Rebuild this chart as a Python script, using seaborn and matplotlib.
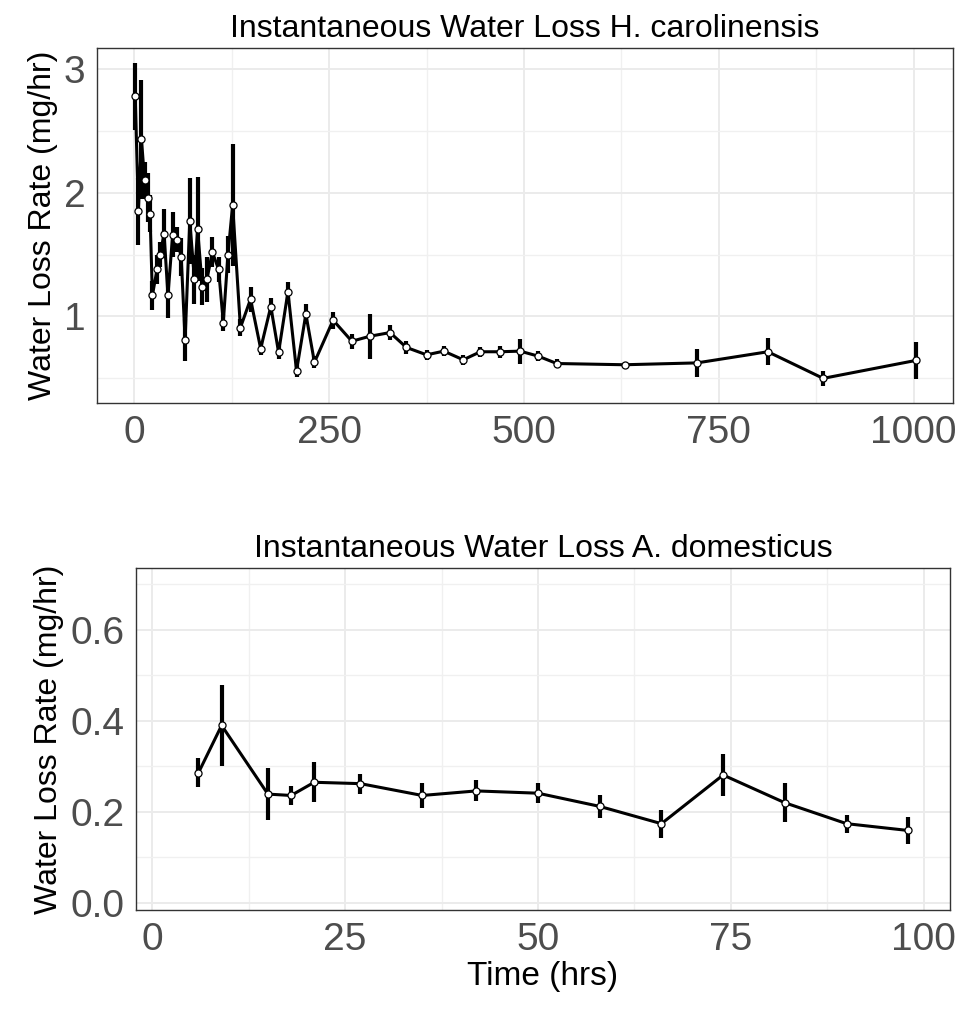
import numpy as np
import pandas as pd
import matplotlib
matplotlib.use("Agg")
import matplotlib.pyplot as plt
import seaborn as sns
from matplotlib.ticker import MultipleLocator

# ---- du lieu H. carolinensis ----
h_time = [1, 5, 9, 13, 17, 20, 23, 29, 33, 38, 43, 49, 55, 60, 65, 71, 77, 81, 87, 93,
          100, 108, 114, 120, 126, 136, 149, 162, 175, 185, 197, 208, 220, 231, 255,
          279, 302, 328, 349, 375, 397, 422, 444, 469, 495, 518, 542, 629, 722, 813,
          884, 1003]
h_rate = [2.78, 1.85, 2.43, 2.10, 1.96, 1.83, 1.17, 1.38, 1.50, 1.67, 1.17, 1.66, 1.62,
          1.48, 0.81, 1.77, 1.30, 1.71, 1.24, 1.30, 1.52, 1.38, 0.95, 1.50, 1.90, 0.91,
          1.14, 0.74, 1.08, 0.71, 1.20, 0.56, 1.02, 0.63, 0.97, 0.80, 0.84, 0.87, 0.75,
          0.69, 0.72, 0.65, 0.715, 0.715, 0.72, 0.68, 0.62, 0.61, 0.625, 0.715, 0.50,
          0.645]
h_se = [0.27, 0.27, 0.48, 0.15, 0.20, 0.15, 0.12, 0.12, 0.10, 0.20, 0.18, 0.18, 0.10,
        0.15, 0.17, 0.35, 0.20, 0.42, 0.15, 0.18, 0.12, 0.10, 0.07, 0.15, 0.49, 0.07,
        0.10, 0.05, 0.07, 0.05, 0.08, 0.05, 0.08, 0.05, 0.07, 0.06, 0.18, 0.06, 0.05,
        0.04, 0.04, 0.04, 0.04, 0.05, 0.10, 0.04, 0.04, 0.02, 0.11, 0.11, 0.06, 0.15]

# ---- du lieu A. domesticus ----
a_time = [6, 9, 15, 18, 21, 27, 35, 42, 50, 58, 66, 74, 82, 90, 98]
a_rate = [0.286, 0.39, 0.239, 0.236, 0.265, 0.262, 0.236, 0.246, 0.241, 0.212, 0.174,
          0.281, 0.22, 0.174, 0.159]
a_se = [0.032, 0.089, 0.057, 0.02, 0.044, 0.022, 0.027, 0.023, 0.022, 0.025, 0.031,
        0.046, 0.043, 0.02, 0.03]

df_h = pd.DataFrame({"time": h_time, "rate": h_rate, "se": h_se})
df_a = pd.DataFrame({"time": a_time, "rate": a_rate, "se": a_se})

sns.set_style("white")
plt.rcParams["font.family"] = ["Liberation Sans", "DejaVu Sans"]

fig = plt.figure(figsize=(9.61, 10.18), dpi=100)
ax1 = fig.add_axes([0.101, 0.604, 0.891, 0.349])
ax2 = fig.add_axes([0.1415, 0.106, 0.847, 0.336])


def ve_panel(ax, df, title):
    # thanh sai so (mean +/- se)
    ax.errorbar(df["time"], df["rate"], yerr=df["se"], fmt="none",
                ecolor="black", elinewidth=3.0, capsize=0, zorder=3)
    sns.lineplot(data=df, x="time", y="rate", ax=ax, color="black",
                 linewidth=2.2, zorder=4)
    sns.scatterplot(data=df, x="time", y="rate", ax=ax, s=26, color="white",
                    edgecolor="black", linewidth=0.9, zorder=5)
    ax.set_title(title, fontsize=23, color="black", pad=8)
    ax.set_ylabel("Water Loss Rate (mg/hr)", fontsize=23, color="black", labelpad=4)
    ax.grid(True, which="major", color="#EBEBEB", linewidth=1.4)
    ax.grid(True, which="minor", color="#F0F0F0", linewidth=1.0)
    ax.set_axisbelow(True)
    for s in ax.spines.values():
        s.set_color("#333333")
        s.set_linewidth(1.0)
    ax.tick_params(axis="both", which="major", labelsize=28, colors="#4D4D4D",
                   length=5, width=1, labelcolor="#4D4D4D")
    ax.tick_params(axis="both", which="minor", length=0)


ve_panel(ax1, df_h, "Instantaneous Water Loss H. carolinensis")
ax1.set_xlim(-48, 1051)
ax1.set_ylim(0.30, 3.17)
ax1.xaxis.set_major_locator(MultipleLocator(250))
ax1.xaxis.set_minor_locator(MultipleLocator(125))
ax1.yaxis.set_major_locator(MultipleLocator(1))
ax1.yaxis.set_minor_locator(MultipleLocator(0.5))
ax1.set_xlabel("")

ve_panel(ax2, df_a, "Instantaneous Water Loss A. domesticus")
ax2.set_xlim(-2.1, 103.4)
ax2.set_ylim(-0.016, 0.736)
ax2.xaxis.set_major_locator(MultipleLocator(25))
ax2.xaxis.set_minor_locator(MultipleLocator(12.5))
ax2.yaxis.set_major_locator(MultipleLocator(0.2))
ax2.yaxis.set_minor_locator(MultipleLocator(0.1))
ax2.yaxis.set_major_formatter(matplotlib.ticker.FormatStrFormatter("%.1f"))
ax2.set_xlabel("Time (hrs)", fontsize=24, color="black", labelpad=2)

fig.savefig("out.png", dpi=100)
